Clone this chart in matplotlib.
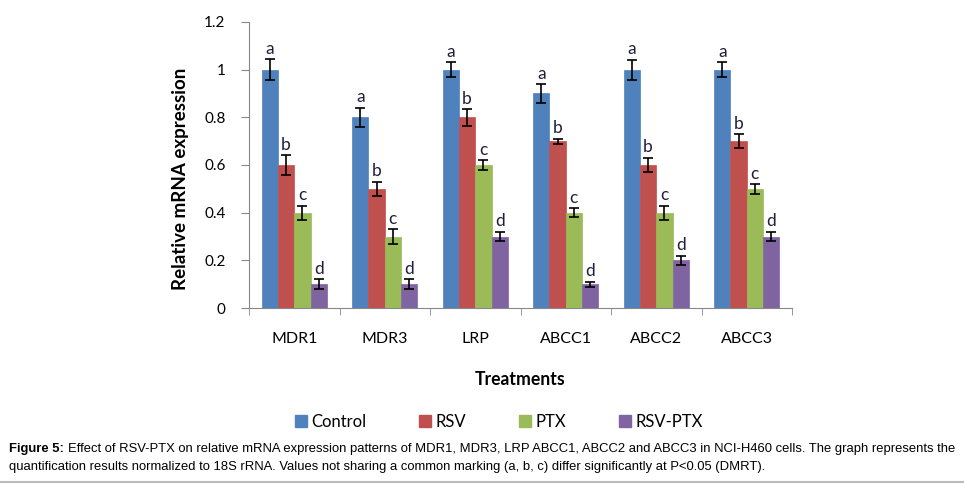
import matplotlib.pyplot as plt
import numpy as np
from matplotlib.lines import Line2D

genes = ["MDR1", "MDR3", "LRP", "ABCC1", "ABCC2", "ABCC3"]
series = ["Control", "RSV", "PTX", "RSV-PTX"]
colors = ["#4F81BD", "#C0504D", "#9BBB59", "#8064A2"]

control = [1.0, 0.8, 1.0, 0.9, 1.0, 1.0]
rsv = [0.6, 0.5, 0.8, 0.7, 0.6, 0.7]
ptx = [0.4, 0.3, 0.6, 0.4, 0.4, 0.5]
rsv_ptx = [0.1, 0.1, 0.3, 0.1, 0.2, 0.3]

control_err = [0.045, 0.04, 0.03, 0.038, 0.042, 0.03]
rsv_err = [0.04, 0.03, 0.035, 0.01, 0.03, 0.03]
ptx_err = [0.03, 0.03, 0.02, 0.02, 0.03, 0.02]
rsv_ptx_err = [0.02, 0.02, 0.02, 0.01, 0.02, 0.02]

letters = ["a", "b", "c", "d"]

values = [control, rsv, ptx, rsv_ptx]
errors = [control_err, rsv_err, ptx_err, rsv_ptx_err]

plt.rcParams["font.family"] = ["Lato", "DejaVu Sans"]
CAP_FONT = ["Liberation Sans"]

fig = plt.figure(figsize=(9.64, 4.84), dpi=100)
ax = fig.add_axes([0.2583, 0.3636, 0.5633, 0.591])

x = np.arange(len(genes))
w = 0.18
for i, (name, vals, errs, col) in enumerate(zip(series, values, errors, colors)):
    pos = x + (i - 1.5) * w
    ax.bar(pos, vals, width=w, color=col, edgecolor=col, linewidth=0.5, label=name)
    ax.errorbar(pos, vals, yerr=errs, fmt="none", ecolor="black", elinewidth=1.2,
                capsize=3.5, capthick=1.2)
    for p, v, e in zip(pos, vals, errs):
        ax.text(p, v + e + 0.01, letters[i], ha="center", va="bottom",
                fontsize=12.5, color="#1f1f3a")

ax.set_xlim(-0.5, len(genes) - 0.5)
ax.set_ylim(0, 1.2)
ax.set_yticks(np.arange(0, 1.21, 0.2))
ax.set_yticklabels(["0", "0.2", "0.4", "0.6", "0.8", "1", "1.2"])
ax.set_xticks(x)
ax.set_xticklabels(genes)
ax.set_xticks(np.arange(-0.5, len(genes)), minor=True)
ax.tick_params(axis="x", which="major", length=0, pad=17, labelsize=11.5)
ax.tick_params(axis="x", which="minor", length=5, color="#888888")
ax.tick_params(axis="y", length=6, pad=11, color="#888888", labelsize=11)
for s in ["top", "right"]:
    ax.spines[s].set_visible(False)
for s in ["left", "bottom"]:
    ax.spines[s].set_color("#888888")

ax.set_ylabel("Relative mRNA expression", fontsize=13.5, fontweight="bold")
ax.yaxis.set_label_coords(-0.11, 0.45)
ax.set_xlabel("Treatments", fontsize=12.7, fontweight="bold", labelpad=18)

handles = [Line2D([0], [0], marker="s", linestyle="none", markersize=8,
                  markerfacecolor=c, markeredgecolor=c, label=n)
           for n, c in zip(series, colors)]
fig.legend(handles=handles, loc="center", bbox_to_anchor=(0.517, 0.128), ncol=4,
           frameon=False, fontsize=12, handlelength=0.8, handletextpad=0.25,
           columnspacing=3.1)

fig.canvas.draw()
t1 = fig.text(0.009, 0.072, "Figure 5:", fontsize=9.4, fontweight="bold",
              family=CAP_FONT, va="center")
bb = t1.get_window_extent(fig.canvas.get_renderer())
x2 = (bb.x1 + 4) / fig.bbox.width
fig.text(x2, 0.072,
         "Effect of RSV-PTX on relative mRNA expression patterns of MDR1, MDR3, LRP ABCC1, "
         "ABCC2 and ABCC3 in NCI-H460 cells. The graph represents the",
         fontsize=9.4, family=CAP_FONT, va="center")
fig.text(0.009, 0.036,
         "quantification results normalized to 18S rRNA. Values not sharing a common marking "
         "(a, b, c) differ significantly at P<0.05 (DMRT).",
         fontsize=9.4, family=CAP_FONT, va="center")
fig.add_artist(Line2D([0, 1], [0.004, 0.004], color="#bbbbbb", linewidth=1.5))

fig.savefig("out.png", dpi=100)
